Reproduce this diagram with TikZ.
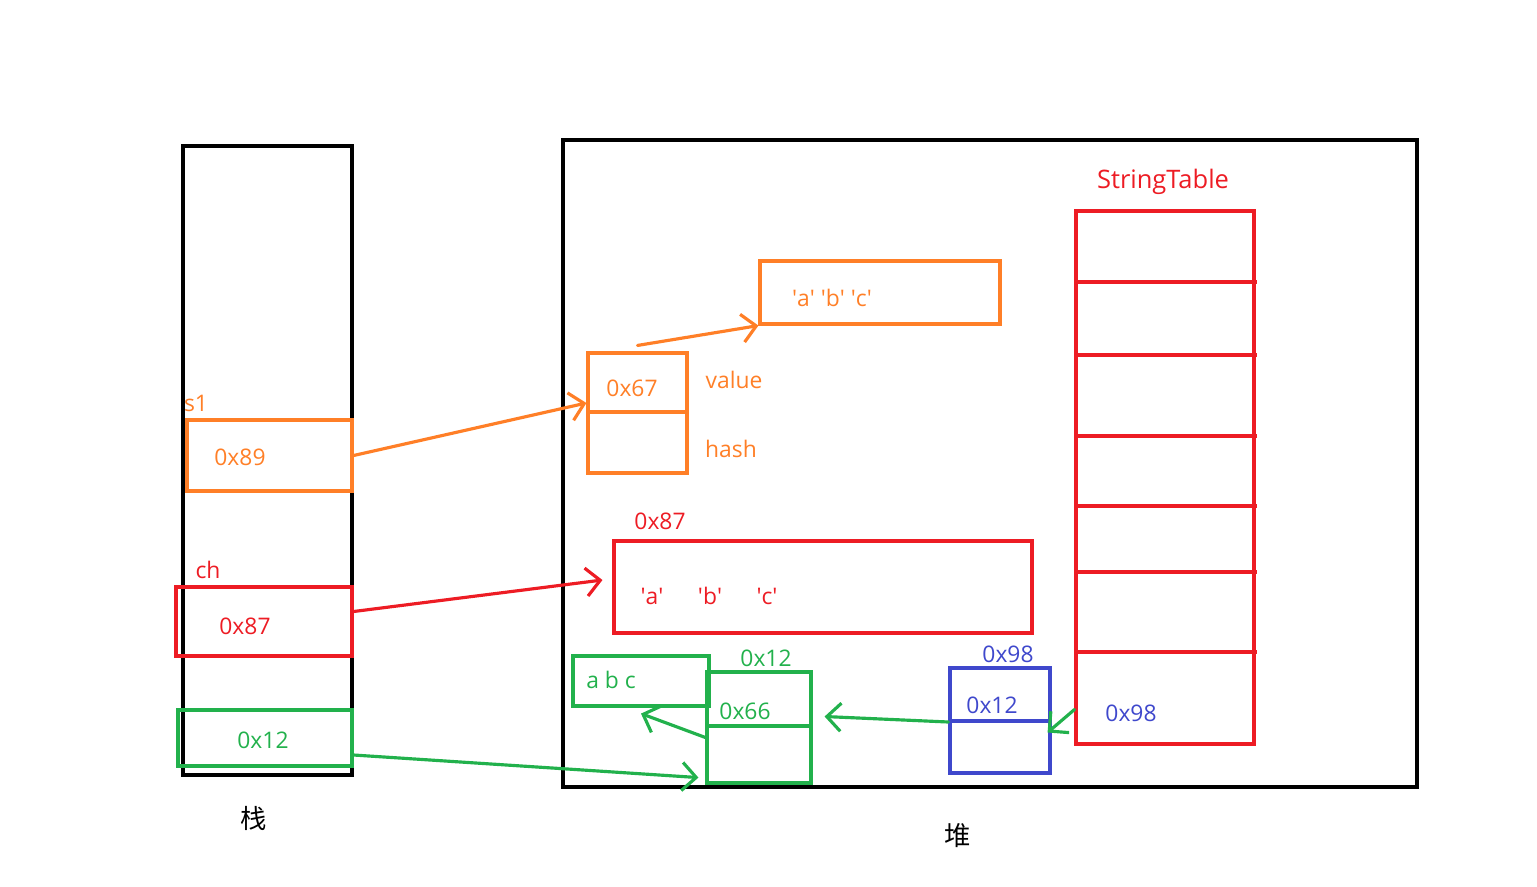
\documentclass[tikz,border=0pt]{standalone}
\usepackage{fontspec}
\setmainfont{Open Sans}
\newfontfamily\cjk{Noto Sans CJK SC}
\usepackage{tikz}
\usetikzlibrary{arrows.meta, positioning, calc}
\definecolor{pntorange}{RGB}{255,127,39}
\definecolor{pntred}{RGB}{237,28,36}
\definecolor{pntgreen}{RGB}{34,177,76}
\definecolor{pntblue}{RGB}{63,72,204}
\newcommand{\chq}[1]{\textquotesingle#1\textquotesingle}
\tikzset{
    % Memory areas
    areabox/.style={rectangle, draw=black, line width=2pt, inner sep=0pt},
    % Cells
    cell/.style={rectangle, draw=#1, line width=1.8pt, inner sep=0pt},
    divline/.style={draw=#1, line width=1.8pt},
    % Text
    lbl/.style={text=#1, inner sep=0pt, font=\fontsize{13}{15}\selectfont},
    cjklbl/.style={inner sep=0pt, font=\cjk\fontsize{15}{17}\selectfont},
    % Pointers
    ptr/.style={-{Straight Barb[length=8pt, width=16pt]}, line width=1.8pt, line cap=round, #1},
}
\begin{document}
\begin{tikzpicture}[x=0.02cm, y=-0.02cm]
\useasboundingbox (0,0) rectangle (1537,886);
% stack and heap
\node[areabox, minimum width=3.38cm, minimum height=12.58cm] (stack) at (267.5,460.5) {};
\node[areabox, minimum width=17.08cm, minimum height=12.94cm] (heap) at (990,463.5) {};
\node[cjklbl] (stacklbl) at (254,818) {栈};
\node[cjklbl] (heaplbl) at (958,836) {堆};
% stack slots
\node[cell=pntorange, minimum width=3.3cm, minimum height=1.42cm] (s1box) at (269.5,455.5) {};
\node[lbl=pntorange] (s1lbl) at (196,403) {s1};
\node[lbl=pntorange] (s1val) at (240,457) {0x89};
\node[cell=pntred, minimum width=3.52cm, minimum height=1.38cm] (chbox) at (264,621.5) {};
\node[lbl=pntred] (chlbl) at (208,570) {ch};
\node[lbl=pntred] (chval) at (245,626) {0x87};
\node[cell=pntgreen, minimum width=3.48cm, minimum height=1.12cm] (gbox) at (265,738) {};
\node[lbl=pntgreen] (gval) at (263,740) {0x12};
% string object 0x89
\node[cell=pntorange, minimum width=1.98cm, minimum height=2.4cm] (strobj) at (637.5,413) {};
\draw[divline=pntorange] (588,412) -- (687,412);
\node[lbl=pntorange] (strval) at (632,388) {0x67};
\node[lbl=pntorange] (valuelbl) at (734,380) {value};
\node[lbl=pntorange] (hashlbl) at (731,449) {hash};
\node[cell=pntorange, minimum width=4.8cm, minimum height=1.26cm] (oarr) at (880,292.5) {};
\node[lbl=pntorange] (oarrtxt) at (832,298) {\chq{a} \chq{b} \chq{c}};
% char array 0x87
\node[cell=pntred, minimum width=8.36cm, minimum height=1.84cm] (rarr) at (823,587) {};
\node[lbl=pntred] (rarrlbl) at (660,521) {0x87};
\node[lbl=pntred] (ra) at (652,596) {\chq{a}};
\node[lbl=pntred] (rb) at (710,596) {\chq{b}};
\node[lbl=pntred] (rc) at (767,596) {\chq{c}};
% string object 0x12
\node[cell=pntgreen, minimum width=2.72cm, minimum height=1cm] (gabc) at (641,681) {};
\node[lbl=pntgreen] (gabctxt) at (611,680) {a b c};
\node[cell=pntgreen, minimum width=2.08cm, minimum height=2.22cm] (gobj) at (759,727.5) {};
\draw[divline=pntgreen] (707,726) -- (811,726);
\node[lbl=pntgreen] (gobjlbl) at (766,658) {0x12};
\node[lbl=pntgreen] (gobjval) at (745,711) {0x66};
% entry 0x98
\node[cell=pntblue, minimum width=2cm, minimum height=2.1cm] (entry) at (1000,720.5) {};
\draw[divline=pntblue] (950,721) -- (1050,721);
\node[lbl=pntblue] (entrylbl) at (1008,654) {0x98};
\node[lbl=pntblue] (entryval) at (992,705) {0x12};
% StringTable
\node[cell=pntred, minimum width=3.56cm, minimum height=10.66cm] (table) at (1165,477.5) {};
\node[lbl=pntred, font=\fontsize{14.5}{17}\selectfont] (tablelbl) at (1163,182) {StringTable};
\foreach \y in {282,355,436,506,572,652}
  \draw[divline=pntred] (1076,\y) -- (1257,\y);
\node[lbl=pntblue] (tableval) at (1131,713) {0x98};
% pointers
\draw[ptr=pntorange] (s1box.east) -- ([yshift=0.2cm]strobj.west);
\draw[ptr=pntorange] ([yshift=0.12cm]strobj.north) -- (oarr.south west);
\draw[ptr=pntred] ([yshift=0.2cm]chbox.east) -- ([xshift=-0.2cm,yshift=0.14cm]rarr.west);
\draw[ptr=pntgreen] ([yshift=-0.34cm]gbox.east) -- ([xshift=-0.14cm,yshift=0.14cm]gobj.south west);
\draw[ptr=pntgreen] ([yshift=-0.2cm]gobj.west) -- ([yshift=-0.12cm]gabc.south);
\draw[ptr=pntgreen] ([yshift=-0.03cm]entry.west) -- ([xshift=0.24cm,yshift=0.22cm]gobj.east);
\draw[ptr=pntgreen] ([yshift=0.72cm]table.south west) -- ([xshift=-0.08cm,yshift=-0.24cm]entry.east);
\end{tikzpicture}
\end{document}
